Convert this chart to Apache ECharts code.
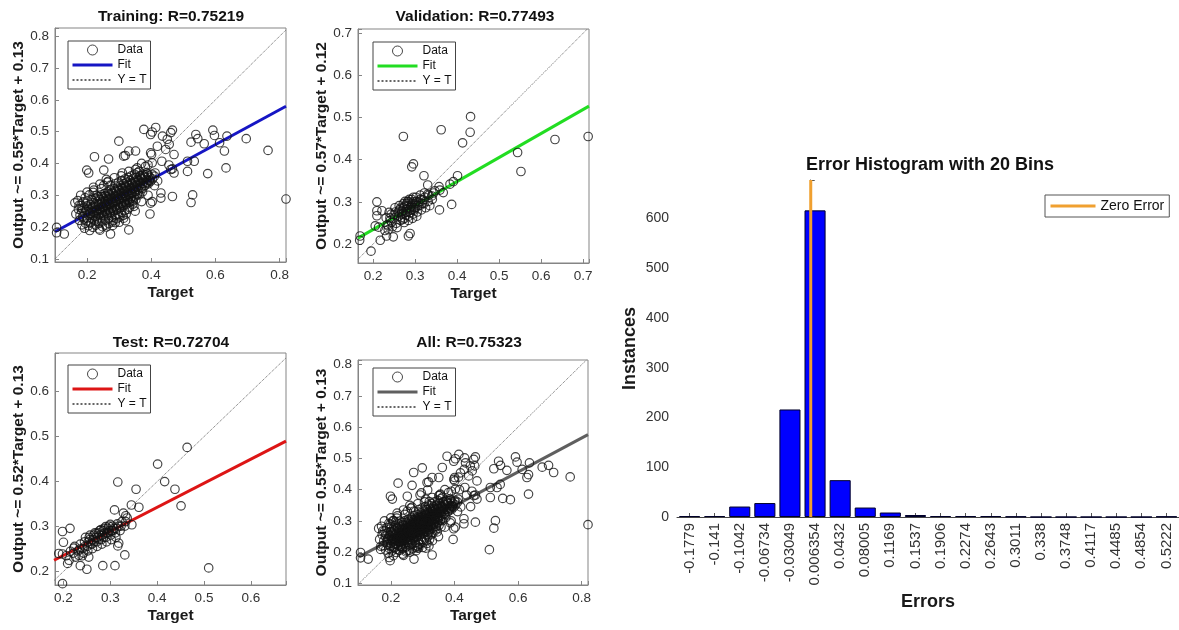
<!DOCTYPE html>
<html><head><meta charset="utf-8">
<script src="https://cdn.jsdelivr.net/npm/echarts@6/dist/echarts.min.js"></script>
<style>html,body{margin:0;padding:0;background:#fff}#c{width:1179px;height:630px}</style>
</head><body><div id="c"></div>
<script>
// ---------- data ----------
const trainPoints = [
[0.377,0.507],[0.403,0.499],[0.414,0.513],[0.398,0.491],[0.435,0.486],[0.461,0.497],[0.466,0.505],[0.45,0.476],[0.456,0.46],[0.445,0.444],[0.471,0.428],[0.419,0.454],[0.539,0.491],[0.545,0.478],[0.524,0.467],[0.565,0.462],[0.592,0.505],[0.597,0.488],[0.613,0.465],[0.636,0.486],[0.628,0.439],[0.696,0.478],[0.764,0.441],[0.633,0.386],[0.576,0.368],[0.513,0.375],[0.534,0.407],[0.513,0.407],[0.466,0.383],[0.461,0.381],[0.471,0.37],[0.433,0.407],[0.398,0.433],[0.401,0.428],[0.403,0.402],[0.299,0.47],[0.314,0.423],[0.319,0.425],[0.33,0.439],[0.351,0.439],[0.267,0.414],[0.223,0.421],[0.199,0.379],[0.205,0.37],[0.252,0.379],[0.267,0.344],[0.382,0.391],[0.412,0.37],[0.398,0.275],[0.403,0.28],[0.43,0.307],[0.43,0.291],[0.466,0.296],[0.529,0.301],[0.524,0.277],[0.396,0.241],[0.33,0.191],[0.273,0.178],[0.129,0.178],[0.105,0.199],[0.105,0.182],[0.314,0.228],[0.288,0.214],[0.346,0.265],[0.351,0.381],[0.356,0.386],[0.388,0.366],[0.374,0.362],[0.82,0.288],[0.37,0.4],[0.39,0.395],[0.455,0.395],
[0.162,0.276],[0.165,0.241],[0.171,0.283],[0.173,0.256],[0.176,0.221],[0.178,0.237],
[0.181,0.268],[0.183,0.251],[0.186,0.232],[0.184,0.207],[0.188,0.279],
[0.191,0.262],[0.193,0.244],[0.19,0.226],[0.195,0.212],[0.192,0.196],[0.197,0.274],[0.194,0.292],
[0.201,0.266],[0.203,0.249],[0.206,0.237],[0.199,0.219],[0.204,0.204],[0.208,0.189],[0.202,0.281],[0.207,0.301],
[0.212,0.271],[0.214,0.257],[0.211,0.241],[0.216,0.228],[0.213,0.216],[0.218,0.199],[0.215,0.286],[0.219,0.309],
[0.221,0.276],[0.224,0.262],[0.222,0.246],[0.226,0.233],[0.223,0.221],[0.227,0.206],[0.225,0.291],[0.228,0.299],[0.221,0.316],
[0.232,0.281],[0.234,0.266],[0.231,0.251],[0.236,0.239],[0.233,0.226],[0.237,0.211],[0.235,0.296],[0.238,0.194],
[0.242,0.286],[0.244,0.272],[0.241,0.254],[0.246,0.244],[0.243,0.231],[0.247,0.216],[0.245,0.301],[0.248,0.201],[0.244,0.321],
[0.252,0.291],[0.254,0.276],[0.251,0.261],[0.256,0.249],[0.253,0.236],[0.257,0.221],[0.255,0.306],[0.258,0.206],[0.252,0.331],
[0.262,0.296],[0.264,0.281],[0.261,0.266],[0.266,0.254],[0.263,0.241],[0.267,0.226],[0.265,0.311],[0.268,0.211],[0.263,0.341],
[0.272,0.301],[0.274,0.286],[0.271,0.271],[0.276,0.259],[0.273,0.246],[0.277,0.231],[0.275,0.316],[0.278,0.216],[0.272,0.331],
[0.282,0.306],[0.284,0.291],[0.281,0.276],[0.286,0.264],[0.283,0.251],[0.287,0.236],[0.285,0.321],[0.288,0.336],[0.282,0.221],
[0.292,0.311],[0.294,0.296],[0.291,0.281],[0.296,0.269],[0.293,0.256],[0.297,0.241],[0.295,0.326],[0.298,0.341],[0.292,0.226],
[0.302,0.316],[0.304,0.301],[0.301,0.286],[0.306,0.274],[0.303,0.261],[0.307,0.246],[0.305,0.331],[0.308,0.346],[0.302,0.231],[0.306,0.361],
[0.312,0.321],[0.314,0.306],[0.311,0.291],[0.316,0.279],[0.313,0.266],[0.317,0.251],[0.315,0.336],[0.318,0.351],[0.312,0.236],
[0.322,0.326],[0.324,0.311],[0.321,0.296],[0.326,0.284],[0.323,0.271],[0.327,0.256],[0.325,0.341],[0.328,0.356],[0.322,0.241],
[0.332,0.331],[0.334,0.316],[0.331,0.301],[0.336,0.289],[0.333,0.276],[0.335,0.346],[0.338,0.361],[0.332,0.261],
[0.342,0.336],[0.344,0.321],[0.341,0.306],[0.346,0.294],[0.343,0.281],[0.345,0.351],[0.348,0.366],[0.342,0.271],
[0.352,0.341],[0.354,0.326],[0.351,0.311],[0.356,0.301],[0.353,0.356],[0.357,0.371],[0.352,0.286],
[0.362,0.346],[0.364,0.331],[0.361,0.316],[0.366,0.361],[0.363,0.376],[0.362,0.301],
[0.372,0.351],[0.374,0.336],[0.371,0.321],[0.376,0.366],[0.373,0.311],
[0.382,0.356],[0.384,0.341],[0.381,0.331],[0.386,0.371],
[0.392,0.361],[0.394,0.346],[0.391,0.336],
[0.402,0.366],[0.404,0.351],
[0.185,0.258],[0.196,0.253],[0.2,0.228],[0.205,0.259],[0.209,0.244],[0.21,0.212],[0.217,0.264],[0.218,0.249],[0.22,0.236],[0.226,0.27],[0.229,0.254],[0.23,0.241],[0.23,0.218],[0.236,0.274],[0.238,0.259],[0.24,0.246],[0.239,0.288],[0.246,0.279],[0.248,0.264],[0.249,0.251],[0.25,0.238],[0.247,0.296],[0.256,0.284],[0.258,0.269],[0.259,0.256],[0.26,0.243],[0.257,0.299],[0.266,0.289],[0.268,0.274],[0.269,0.261],[0.27,0.248],[0.267,0.304],[0.276,0.294],[0.278,0.279],[0.279,0.266],[0.28,0.253],[0.277,0.309],[0.286,0.299],[0.288,0.284],[0.289,0.271],[0.29,0.258],[0.287,0.314],[0.296,0.304],[0.298,0.289],[0.299,0.276],[0.3,0.263],[0.297,0.319],[0.306,0.309],[0.308,0.294],[0.309,0.281],[0.31,0.268],[0.307,0.324],[0.316,0.314],[0.318,0.299],[0.319,0.286],[0.32,0.273],[0.317,0.329],[0.326,0.319],[0.328,0.304],[0.329,0.291],[0.33,0.278],[0.327,0.334],[0.336,0.324],[0.338,0.309],[0.339,0.296],[0.34,0.283],[0.337,0.339],[0.346,0.329],[0.348,0.314],[0.349,0.301],[0.347,0.344],[0.356,0.334],[0.358,0.319],[0.359,0.306],[0.357,0.349],[0.366,0.339],[0.368,0.324],[0.367,0.354],[0.376,0.344],[0.378,0.329],[0.377,0.359],[0.386,0.349],[0.388,0.339],[0.396,0.356],[0.398,0.344],
[0.18,0.3],[0.175,0.268],[0.2,0.31],[0.22,0.325],[0.24,0.335],[0.26,0.35],[0.285,0.355],[0.31,0.37],[0.33,0.375],[0.24,0.19],[0.26,0.2],[0.28,0.205],[0.3,0.215],[0.32,0.22],[0.35,0.25],[0.37,0.28],[0.39,0.3],[0.41,0.33],[0.42,0.345],[0.41,0.36]
];
const valPoints = [
[0.272,0.455],[0.362,0.471],[0.432,0.502],[0.431,0.465],[0.413,0.44],[0.544,0.417],[0.552,0.372],[0.633,0.448],[0.712,0.455],
[0.292,0.383],[0.296,0.39],[0.321,0.362],[0.33,0.34],[0.401,0.362],[0.391,0.348],[0.383,0.342],[0.357,0.336],[0.359,0.328],[0.367,0.322],[0.347,0.326],[0.34,0.314],[0.33,0.318],[0.387,0.294],[0.358,0.281],
[0.209,0.3],[0.209,0.279],[0.209,0.267],[0.221,0.279],[0.205,0.243],[0.213,0.24],[0.169,0.219],[0.168,0.209],[0.195,0.183],[0.217,0.209],[0.232,0.219],[0.248,0.217],[0.284,0.219],[0.288,0.225],[0.228,0.232],[0.236,0.243],
[0.231,0.262],[0.234,0.246],[0.236,0.234],
[0.241,0.256],[0.243,0.271],[0.246,0.241],[0.244,0.251],
[0.251,0.262],[0.253,0.276],[0.255,0.249],[0.252,0.286],[0.257,0.239],
[0.261,0.266],[0.263,0.281],[0.265,0.256],[0.262,0.291],[0.267,0.271],
[0.271,0.272],[0.273,0.286],[0.275,0.261],[0.272,0.296],[0.277,0.276],[0.274,0.251],[0.276,0.301],
[0.281,0.276],[0.283,0.291],[0.285,0.266],[0.282,0.301],[0.287,0.281],[0.284,0.256],[0.286,0.306],[0.288,0.286],
[0.291,0.281],[0.293,0.296],[0.295,0.271],[0.292,0.306],[0.297,0.286],[0.294,0.261],[0.296,0.311],
[0.301,0.286],[0.303,0.301],[0.305,0.276],[0.302,0.311],[0.307,0.291],[0.304,0.266],
[0.311,0.291],[0.313,0.306],[0.315,0.281],[0.312,0.316],[0.317,0.296],
[0.321,0.296],[0.323,0.311],[0.325,0.286],[0.322,0.321],
[0.331,0.301],[0.333,0.316],[0.335,0.291],
[0.341,0.306],[0.344,0.321],
[0.266,0.262],[0.268,0.278],[0.278,0.268],[0.279,0.283],[0.28,0.296],[0.289,0.275],[0.29,0.29],[0.298,0.281],[0.299,0.296],[0.27,0.258],[0.26,0.276],[0.25,0.27],[0.308,0.3],[0.318,0.305],[0.285,0.3],[0.295,0.3],[0.275,0.29],[0.265,0.285],[0.24,0.262],[0.238,0.275]
];
const testPoints = [
[0.464,0.476],[0.676,0.472],[0.401,0.439],[0.416,0.4],[0.316,0.399],[0.355,0.383],[0.438,0.383],[0.451,0.346],[0.345,0.348],[0.361,0.343],[0.309,0.337],[0.328,0.33],[0.333,0.324],[0.336,0.319],[0.346,0.304],[0.51,0.208],[0.198,0.289],[0.214,0.296],[0.2,0.265],[0.198,0.239],[0.19,0.24],[0.198,0.173],[0.209,0.218],[0.212,0.225],[0.236,0.213],[0.25,0.205],[0.284,0.213],[0.31,0.213],[0.331,0.237],[0.318,0.263],[0.316,0.257],[0.222,0.252],[0.226,0.232],[0.24,0.235],[0.254,0.232],[0.206,0.235],[0.215,0.245],
[0.221,0.241],[0.224,0.256],
[0.231,0.246],[0.233,0.236],[0.236,0.261],
[0.241,0.251],[0.243,0.241],[0.245,0.266],[0.247,0.276],
[0.251,0.256],[0.253,0.266],[0.255,0.276],[0.252,0.246],[0.257,0.281],
[0.261,0.261],[0.263,0.271],[0.265,0.281],[0.262,0.251],[0.267,0.286],
[0.271,0.266],[0.273,0.276],[0.275,0.286],[0.272,0.256],[0.277,0.291],
[0.281,0.271],[0.283,0.281],[0.285,0.291],[0.282,0.261],[0.287,0.296],
[0.291,0.276],[0.293,0.286],[0.295,0.296],[0.292,0.266],[0.297,0.301],
[0.301,0.281],[0.303,0.291],[0.305,0.301],[0.302,0.271],
[0.311,0.286],[0.313,0.296],[0.315,0.306],[0.312,0.276],
[0.321,0.291],[0.323,0.301],[0.325,0.311],
[0.331,0.301],[0.333,0.311],
[0.266,0.266],[0.268,0.276],[0.276,0.271],[0.278,0.281],[0.286,0.276],[0.288,0.286],[0.296,0.286],[0.298,0.291],[0.306,0.291],[0.308,0.296],[0.258,0.261],[0.256,0.271],[0.27,0.285],[0.28,0.293],[0.29,0.3],[0.3,0.305],[0.318,0.301],[0.245,0.255],[0.235,0.25]
];
const allPoints = trainPoints.concat(valPoints, testPoints);

const trainFit = [[0.1,0.185],[0.82,0.58]];
const valFit   = [[0.164,0.214],[0.714,0.527]];
const testFit  = [[0.18,0.225],[0.675,0.49]];
const allFit   = [[0.1,0.185],[0.82,0.576]];

const trainYT = [[0.1,0.1],[0.82,0.82]];
const valYT   = [[0.164,0.164],[0.71,0.71]];
const testYT  = [[0.18,0.18],[0.675,0.675]];
const allYT   = [[0.1,0.1],[0.815,0.815]];

const errorBins = ['-0.1779','-0.141','-0.1042','-0.06734','-0.03049','0.006354','0.0432','0.08005','0.1169','0.1537','0.1906','0.2274','0.2643','0.3011','0.338','0.3748','0.4117','0.4485','0.4854','0.5222'];
const errorCounts = [2,2,21,28,216,616,74,19,9,4,2,2,2,1,0,0,0,0,0,1];
const zeroErrorLine = [[0,0],[0,677]];

// ---------- chart ----------
const FONT = '"Liberation Sans", Arial, Helvetica, sans-serif';
const LEG = {Data:'Data', Fit:'Fit', YT:'Y = T'};
function fmt(step){ return v => { const k = v/step; return Math.abs(k-Math.round(k))<1e-6 ? String(+v.toFixed(3)) : ''; }; }
const HIDE_SYMBOL = {color:'rgba(0,0,0,0)', borderColor:'rgba(0,0,0,0)', borderWidth:0, opacity:0};

const panels = [
 {key:'T', title:'Training: R=0.75219', yName:'Output ~= 0.55*Target + 0.13', pts:trainPoints, fit:trainFit, yt:trainYT, color:'#1616c4',
  grid:{left:55,top:28,width:231,height:234}, x:[0.1,0.82], y:[0.09,0.826], xs:0.2, ys:0.1, tx:171, ty:9, lg:[68,41]},
 {key:'V', title:'Validation: R=0.77493', yName:'Output ~= 0.57*Target + 0.12', pts:valPoints, fit:valFit, yt:valYT, color:'#22dd22',
  grid:{left:358,top:29,width:231,height:234}, x:[0.164,0.714], y:[0.155,0.71], xs:0.1, ys:0.1, tx:475, ty:9, lg:[373,42]},
 {key:'S', title:'Test: R=0.72704', yName:'Output ~= 0.52*Target + 0.13', pts:testPoints, fit:testFit, yt:testYT, color:'#dd1515',
  grid:{left:55,top:353,width:231,height:232}, x:[0.182,0.675], y:[0.17,0.686], xs:0.1, ys:0.1, tx:171, ty:335, lg:[68,365]},
 {key:'A', title:'All: R=0.75323', yName:'Output ~= 0.55*Target + 0.13', pts:allPoints, fit:allFit, yt:allYT, color:'#5f5f5f',
  grid:{left:358,top:360,width:230,height:225}, x:[0.097,0.82], y:[0.095,0.815], xs:0.2, ys:0.1, tx:469, ty:335, lg:[373,368]}
];

const axisCol = '#858585';
const option = {animation:false, backgroundColor:'#fff', textStyle:{fontFamily:FONT},
  grid:[], xAxis:[], yAxis:[], series:[], title:[], legend:[]};

panels.forEach((p,i)=>{
  option.grid.push(Object.assign({show:true, borderColor:axisCol, borderWidth:1, backgroundColor:'#fff'}, p.grid));
  option.xAxis.push({type:'value', gridIndex:i, min:p.x[0], max:p.x[1], minInterval:p.xs, maxInterval:p.xs, splitNumber:8,
    axisLine:{show:true, onZero:false, lineStyle:{color:axisCol}}, axisTick:{show:true, inside:true, length:4, lineStyle:{color:axisCol}},
    splitLine:{show:false}, axisLabel:{fontSize:13.5, color:'#333', margin:6, fontFamily:FONT, formatter:fmt(p.xs), hideOverlap:false},
    name:'Target', nameLocation:'middle', nameGap:23, nameTextStyle:{fontSize:15.5, fontWeight:'bold', color:'#1a1a1a', fontFamily:FONT}});
  option.yAxis.push({type:'value', gridIndex:i, min:p.y[0], max:p.y[1], minInterval:p.ys, maxInterval:p.ys, splitNumber:8,
    axisLine:{show:true, onZero:false, lineStyle:{color:axisCol}}, axisTick:{show:true, inside:true, length:4, lineStyle:{color:axisCol}},
    splitLine:{show:false}, axisLabel:{fontSize:13.5, color:'#333', margin:6, fontFamily:FONT, formatter:fmt(p.ys), hideOverlap:false},
    name:p.yName, nameLocation:'middle', nameGap:28, nameTextStyle:{fontSize:15.5, fontWeight:'bold', color:'#1a1a1a', fontFamily:FONT}});
  option.series.push({type:'line', name:'YT|'+p.key, xAxisIndex:i, yAxisIndex:i, data:p.yt, symbol:'none', silent:true, z:2,
    lineStyle:{color:'#666', width:1, type:'dotted'}, itemStyle:{color:'#666'}});
  option.series.push({type:'line', name:'Fit|'+p.key, xAxisIndex:i, yAxisIndex:i, data:p.fit, symbol:'none', silent:true, z:3,
    lineStyle:{color:p.color, width:3}, itemStyle:{color:p.color}});
  option.series.push({type:'scatter', name:'Data|'+p.key, xAxisIndex:i, yAxisIndex:i, data:p.pts, symbol:'circle', symbolSize:8.5, silent:true, z:4,
    itemStyle:{color:'rgba(0,0,0,0)', borderColor:'#131313', borderWidth:1.15}});
  option.title.push({text:p.title, left:p.tx, top:p.ty, textAlign:'center', padding:0,
    textStyle:{fontSize:15.5, fontWeight:'bold', color:'#111', fontFamily:FONT}});
  option.legend.push({left:p.lg[0], top:p.lg[1], orient:'vertical', selectedMode:false, itemWidth:40, itemHeight:10, itemGap:3,
    padding:[3,4,3,3], borderColor:'#444', borderWidth:1, backgroundColor:'#fff', align:'left',
    textStyle:{fontSize:12, color:'#111', fontFamily:FONT},
    formatter:n=>LEG[n.split('|')[0]],
    data:[{name:'Data|'+p.key, icon:'circle', itemStyle:{color:'rgba(0,0,0,0)', borderColor:'#1a1a1a', borderWidth:1}},
          {name:'Fit|'+p.key, itemStyle:HIDE_SYMBOL, lineStyle:{color:p.color, width:3}},
          {name:'YT|'+p.key, itemStyle:HIDE_SYMBOL}]});
});

// histogram
const binW = (parseFloat(errorBins[errorBins.length-1]) - parseFloat(errorBins[0]))/(errorBins.length-1);
option.grid.push({left:677, top:180, width:505, height:337, show:false});
option.xAxis.push({type:'category', gridIndex:4, data:errorBins,
  axisLine:{show:true, lineStyle:{color:'#444'}}, axisTick:{show:true, inside:true, alignWithLabel:true, length:4, lineStyle:{color:'#555'}},
  axisLabel:{rotate:90, fontSize:15, color:'#333', margin:6, interval:0, fontFamily:FONT},
  name:'Errors', nameLocation:'middle', nameGap:70, nameTextStyle:{fontSize:18, fontWeight:'bold', color:'#1a1a1a', fontFamily:FONT}});
option.xAxis.push({type:'value', gridIndex:4, show:false, min:parseFloat(errorBins[0])-binW/2, max:parseFloat(errorBins[errorBins.length-1])+binW/2});
option.yAxis.push({type:'value', gridIndex:4, min:0, max:677, interval:100,
  axisLine:{show:true, lineStyle:{color:'#444'}}, axisTick:{show:true, inside:true, length:4, lineStyle:{color:'#555'}},
  splitLine:{show:false}, axisLabel:{fontSize:14, color:'#333', margin:8, fontFamily:FONT, formatter:v=> (v%100===0? String(v):'')},
  name:'Instances', nameLocation:'middle', nameGap:38, nameTextStyle:{fontSize:18, fontWeight:'bold', color:'#1a1a1a', fontFamily:FONT}});
option.series.push({type:'bar', name:'Instances', xAxisIndex:4, yAxisIndex:4, data:errorCounts, barWidth:'84%', silent:true,
  itemStyle:{color:'#0000ff', borderColor:'#00002a', borderWidth:1}});
option.series.push({type:'line', name:'Zero Error', xAxisIndex:5, yAxisIndex:4, data:zeroErrorLine, symbol:'none', silent:true, z:5,
  lineStyle:{color:'#f0a030', width:3}, itemStyle:{color:'#f0a030'}});
option.title.push({text:'Error Histogram with 20 Bins', left:930, top:156, textAlign:'center', padding:0,
  textStyle:{fontSize:18, fontWeight:'bold', color:'#111', fontFamily:FONT}});
option.legend.push({left:1045, top:195, data:[{name:'Zero Error', itemStyle:HIDE_SYMBOL, lineStyle:{color:'#f0a030', width:3}}], selectedMode:false, itemWidth:45, itemHeight:10,
  padding:[4,5,4,4], borderColor:'#555', borderWidth:1, backgroundColor:'#fff',
  textStyle:{fontSize:14, color:'#111', fontFamily:FONT}});

const chart = echarts.init(document.getElementById('c'), null, {renderer:'canvas'});
chart.setOption(option);
</script></body></html>
